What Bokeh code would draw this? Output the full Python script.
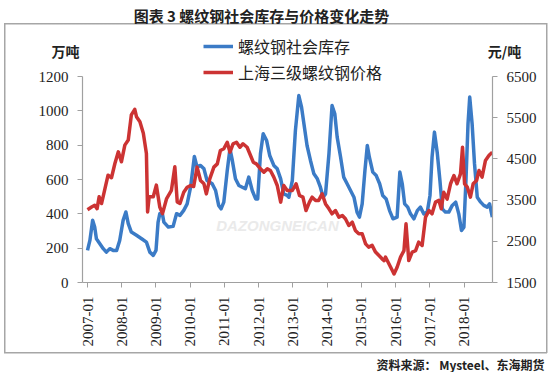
import math
from bokeh.plotting import figure
from bokeh.layouts import column
from bokeh.models import (Range1d, LinearAxis, FixedTicker, Legend, LegendItem, Label)
from bokeh.embed import file_html
from bokeh.resources import INLINE

# ---------------- data ----------------
years = list(range(2007, 2019))
year_labels = [f"{y}-01" for y in years]

inv_t = [2007.00, 2007.07, 2007.15, 2007.21, 2007.26, 2007.36, 2007.46, 2007.55, 2007.65, 2007.75,
         2007.85, 2007.94, 2008.04, 2008.12, 2008.19, 2008.28, 2008.43, 2008.58, 2008.72, 2008.82,
         2008.92, 2009.00, 2009.06, 2009.11, 2009.19, 2009.23, 2009.36, 2009.50, 2009.60, 2009.70,
         2009.81, 2009.91, 2010.01, 2010.12, 2010.20, 2010.30, 2010.40, 2010.49, 2010.64, 2010.74,
         2010.83, 2010.90, 2010.98, 2011.08, 2011.16, 2011.22, 2011.32, 2011.42, 2011.52, 2011.61,
         2011.71, 2011.81, 2011.91, 2011.97, 2012.05, 2012.13, 2012.23, 2012.32, 2012.44, 2012.54,
         2012.64, 2012.73, 2012.83, 2012.88, 2012.98, 2013.07, 2013.17, 2013.25, 2013.32, 2013.41,
         2013.51, 2013.61, 2013.71, 2013.80, 2013.88, 2013.95, 2014.05, 2014.14, 2014.22, 2014.29,
         2014.39, 2014.48, 2014.58, 2014.68, 2014.78, 2014.87, 2014.94, 2015.02, 2015.10, 2015.17,
         2015.23, 2015.33, 2015.43, 2015.53, 2015.62, 2015.72, 2015.82, 2015.92, 2016.04, 2016.12,
         2016.19, 2016.26, 2016.35, 2016.43, 2016.53, 2016.63, 2016.72, 2016.82, 2016.92, 2017.00,
         2017.06, 2017.13, 2017.21, 2017.29, 2017.36, 2017.45, 2017.55, 2017.65, 2017.75, 2017.84,
         2017.92, 2017.99, 2018.05, 2018.11, 2018.16, 2018.23, 2018.30, 2018.38, 2018.48, 2018.57,
         2018.67, 2018.74, 2018.82]
inventory = [187, 245, 362, 323, 255, 226, 197, 177, 197, 187,
             187, 245, 362, 411, 343, 294, 275, 255, 235, 177,
             158, 187, 350, 400, 395, 352, 323, 327, 401, 391,
             420, 458, 555, 734, 672, 682, 662, 594, 575, 536,
             449, 429, 468, 652, 779, 720, 604, 565, 555, 546,
             614, 536, 487, 487, 750, 866, 827, 740, 682, 662,
             604, 516, 507, 497, 594, 885, 1089, 1021, 924, 798,
             711, 633, 604, 555, 497, 516, 750, 1031, 983, 847,
             730, 614, 575, 536, 497, 410, 381, 458, 652, 798,
             730, 643, 623, 575, 507, 487, 419, 371, 381, 643,
             575, 458, 439, 400, 371, 419, 439, 400, 410, 507,
             730, 876, 759, 594, 429, 410, 410, 449, 468, 400,
             303, 322, 594, 924, 1080, 924, 691, 497, 468, 449,
             439, 458, 381]

price_t = [2007.00, 2007.12, 2007.21, 2007.28, 2007.34, 2007.41, 2007.51, 2007.60, 2007.70, 2007.80,
           2007.90, 2007.99, 2008.09, 2008.19, 2008.28, 2008.38, 2008.43, 2008.53, 2008.63, 2008.72,
           2008.755, 2008.80, 2008.92, 2009.01, 2009.11, 2009.19, 2009.31, 2009.45, 2009.55, 2009.62,
           2009.70, 2009.81, 2009.91, 2010.01, 2010.10, 2010.20, 2010.30, 2010.40, 2010.47, 2010.57,
           2010.69, 2010.79, 2010.88, 2010.98, 2011.08, 2011.16, 2011.25, 2011.35, 2011.45, 2011.54,
           2011.66, 2011.76, 2011.84, 2011.93, 2012.05, 2012.15, 2012.25, 2012.34, 2012.44, 2012.54,
           2012.64, 2012.73, 2012.83, 2012.98, 2013.09, 2013.19, 2013.29, 2013.38, 2013.48, 2013.56,
           2013.66, 2013.75, 2013.85, 2013.95, 2014.05, 2014.14, 2014.24, 2014.34, 2014.44, 2014.53,
           2014.63, 2014.73, 2014.82, 2014.92, 2015.02, 2015.12, 2015.21, 2015.31, 2015.41, 2015.51,
           2015.60, 2015.66, 2015.70, 2015.80, 2015.90, 2015.95, 2016.04, 2016.14, 2016.24, 2016.30,
           2016.38, 2016.48, 2016.58, 2016.67, 2016.77, 2016.87, 2016.97, 2017.06, 2017.16, 2017.26,
           2017.33, 2017.40, 2017.50, 2017.60, 2017.70, 2017.79, 2017.89, 2017.95, 2018.01, 2018.09,
           2018.18, 2018.26, 2018.36, 2018.43, 2018.52, 2018.62, 2018.72, 2018.82]
price = [3267, 3333, 3375, 3292, 3580, 3417, 3780, 4104, 4042, 4388,
         4671, 4429, 4834, 4958, 5567, 5703, 5525, 5404, 5121, 4633,
         3213, 3580, 3580, 3863, 3333, 3171, 3538, 3738, 4308, 3454,
         3417, 3692, 3813, 3854, 3830, 4300, 3975, 3896, 3650, 4017,
         4300, 4379, 4704, 4746, 4904, 4663, 4867, 4904, 4783, 4867,
         4783, 4583, 4421, 4379, 4258, 4179, 4258, 4217, 4058, 3854,
         3450, 3854, 3733, 3733, 3896, 3613, 3571, 3246, 3450, 3571,
         3492, 3492, 3650, 3408, 3288, 3167, 3246, 3088, 3125, 3046,
         2883, 2963, 2763, 2683, 2683, 2438, 2358, 2400, 2238, 2154,
         2075, 2033, 2117, 1954, 1792, 1708, 1871, 2117, 2275, 2925,
         2033, 2238, 2275, 2479, 2400, 3088, 3246, 3167, 3450, 3492,
         3288, 3692, 3525, 3896, 4096, 3896, 4138, 4783, 3896, 3813,
         3571, 3896, 3975, 4217, 4058, 4463, 4583, 4663]

left_ticks = [0, 200, 400, 600, 800, 1000, 1200]
right_ticks = [1500, 2500, 3500, 4500, 5500, 6500]

title_text = "图表 3 螺纹钢社会库存与价格变化走势"
series_names = ["螺纹钢社会库存", "上海三级螺纹钢价格"]
left_unit = "万吨"
right_unit = "元/吨"
source_text = "资料来源： Mysteel、东海期货"
watermark = "DAZONGNEICAN"

# ---------------- styling ----------------
BLUE = "#3B7BC6"
RED = "#CC3333"
AXIS = "#A0A0A0"
BORDER = "#A6A6A6"
TXT = "#222222"
SERIF = "Liberation Serif"
CJK = "Noto Sans CJK SC"
LW = 3.5

W = 550
H_HEAD, H_MAIN, H_FOOT = 60, 292, 20          # 60 + 292 + 20 = 372
ML, MR, MB = 82, 58, 70
FRAME_H = H_MAIN - MB                         # 222 px; 206 px carry 0..1200
Y_END = 1200 * FRAME_H / 206.0
R_END = 1500 + 5000 * FRAME_H / 206.0


def bare_fig(h):
    f = figure(width=W, height=h, output_backend="svg", toolbar_location=None,
               x_range=Range1d(0, W), y_range=Range1d(h, 0),
               x_axis_type=None, y_axis_type=None, min_border=0, frame_align=False)
    f.outline_line_color = None
    f.background_fill_alpha = 0
    f.border_fill_alpha = 0
    return f


def legend_style(lg):
    lg.background_fill_alpha = 0
    lg.border_line_color = None
    lg.padding = 0
    lg.margin = 0
    lg.spacing = 6
    lg.glyph_width = 30
    lg.glyph_height = 20
    lg.label_height = 20
    lg.label_standoff = 5
    lg.label_text_font = CJK
    lg.label_text_font_size = "16px"
    lg.label_text_color = TXT


def text_label(f, x, y, text, size, bold=True, align="center"):
    f.add_layout(Label(x=x, y=y, text=text, text_font=CJK, text_font_size=size,
                       text_font_style="bold" if bold else "normal", text_color=TXT,
                       text_align=align, text_baseline="middle"))


# ---------------- header: title, units, first legend row ----------------
head = bare_fig(H_HEAD)
text_label(head, 261, 15, title_text, "15px")
text_label(head, 65, 50, left_unit, "14px")
text_label(head, 504, 50, right_unit, "14px")
# inventory series in the header's own scale (outside its view): gives the legend key
h_r1 = head.line(inv_t, inventory, line_color=BLUE, line_width=LW)
lg1 = Legend(items=[LegendItem(label=series_names[0], renderers=[h_r1])], location=(203, 2))
legend_style(lg1)
head.add_layout(lg1)

# ---------------- main chart ----------------
p = figure(width=W, height=H_MAIN, output_backend="svg", toolbar_location=None,
           x_range=Range1d(2006.854, 2018.825), y_range=Range1d(0, Y_END),
           min_border_left=ML, min_border_right=MR, min_border_top=0, min_border_bottom=MB,
           frame_align=False)
p.extra_y_ranges = {"price": Range1d(1500, R_END)}
p.xgrid.visible = False
p.ygrid.visible = False
p.outline_line_color = None
p.background_fill_alpha = 0
p.border_fill_alpha = 0


def style_axis(ax):
    ax.axis_line_color = AXIS
    ax.axis_line_width = 1.2
    ax.major_tick_line_color = AXIS
    ax.major_tick_out = 5
    ax.major_tick_in = 0
    ax.minor_tick_line_color = None
    ax.major_label_text_font = SERIF
    ax.major_label_text_font_size = "15px"
    ax.major_label_text_color = TXT
    ax.major_label_standoff = 9


xa = p.xaxis[0]
xa.ticker = FixedTicker(ticks=years)
xa.major_label_overrides = {y: lab for y, lab in zip(years, year_labels)}
xa.major_label_orientation = math.pi / 2
style_axis(xa)

ya = p.yaxis[0]
ya.ticker = FixedTicker(ticks=left_ticks)
ya.bounds = (0, 1200)
style_axis(ya)

ra = LinearAxis(y_range_name="price", ticker=FixedTicker(ticks=right_ticks), bounds=(1500, 6500))
style_axis(ra)
p.add_layout(ra, "right")

p.add_layout(Label(x=195, y=57, x_units="screen", y_units="screen", text=watermark,
                   text_font="Liberation Sans", text_font_size="15px",
                   text_font_style="bold italic", text_color="#EAEAEA",
                   text_align="center", text_baseline="middle"))

r1 = p.line(inv_t, inventory, line_color=BLUE, line_width=LW, line_join="round")
r2 = p.line(price_t, price, line_color=RED, line_width=LW, line_join="round",
            y_range_name="price")

lg2 = Legend(items=[LegendItem(label=series_names[1], renderers=[r2])], location=(121, 198))
legend_style(lg2)
p.add_layout(lg2)

# ---------------- footer: source ----------------
foot = bare_fig(H_FOOT)
text_label(foot, 544, 12, source_text, "12px", align="right")

# frame around the chart (x 4..547, y 23..353), painted behind transparent canvases
c = BORDER
page = column(head, p, foot, spacing=0, styles={
    "background-color": "white",
    "background-image": ", ".join([f"linear-gradient({c}, {c})"] * 4),
    "background-size": "543px 1.5px, 543px 1.5px, 1.5px 330px, 1.5px 330px",
    "background-position": "4px 23px, 4px 352px, 4px 23px, 546px 23px",
    "background-repeat": "no-repeat",
})
open("out.html", "w").write(file_html(page, INLINE))
